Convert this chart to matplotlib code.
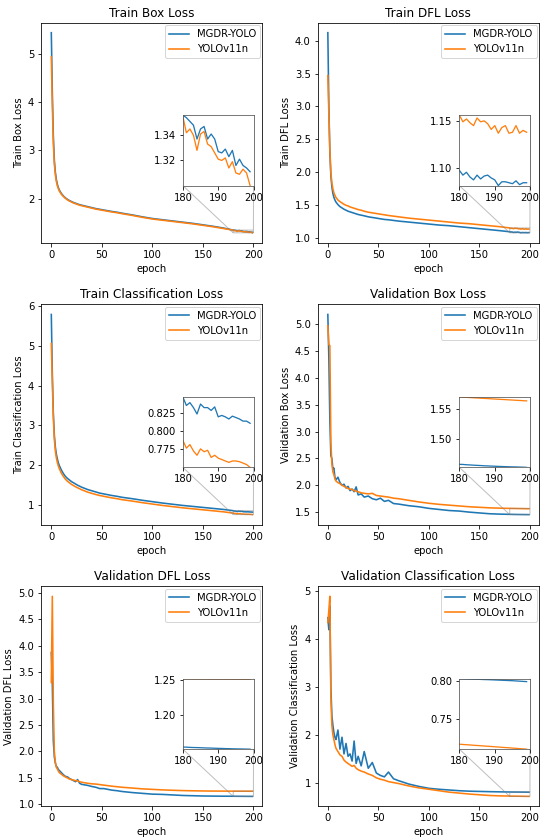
import numpy as np
import matplotlib
matplotlib.use("Agg")
import matplotlib.pyplot as plt

# epochs sampled (dense at the end for the zoom insets)
EPOCHS = [0, 1, 2, 3, 4, 5, 6, 7, 8, 10, 12, 14, 16, 18, 20, 22, 24, 26, 28, 30,
          33, 36, 40, 44, 48, 52, 56, 60, 65, 70, 80, 90, 100, 110, 120, 130, 140,
          150, 160, 170] + list(range(180, 200))

LABELS = ["MGDR-YOLO", "YOLOv11n"]

train_box_mgdr = [5.43, 4.20, 3.30, 2.80, 2.55, 2.40, 2.30, 2.23, 2.18, 2.11, 2.06, 2.02, 1.99, 1.965,
                  1.945, 1.925, 1.91, 1.895, 1.88, 1.87, 1.855, 1.84, 1.82, 1.80, 1.785, 1.77, 1.755,
                  1.74, 1.725, 1.705, 1.67, 1.63, 1.595, 1.57, 1.545, 1.52, 1.495, 1.465, 1.435, 1.40,
                  1.356, 1.354, 1.351, 1.348, 1.337, 1.345, 1.347, 1.337, 1.341, 1.337,
                  1.327, 1.326, 1.329, 1.323, 1.328, 1.316, 1.321, 1.316, 1.314, 1.311]
train_box_yolo = [4.93, 3.95, 3.15, 2.72, 2.50, 2.36, 2.27, 2.21, 2.16, 2.095, 2.05, 2.01, 1.98, 1.955,
                  1.935, 1.915, 1.90, 1.885, 1.87, 1.86, 1.845, 1.83, 1.81, 1.79, 1.775, 1.76, 1.745,
                  1.73, 1.715, 1.695, 1.66, 1.62, 1.585, 1.56, 1.535, 1.51, 1.485, 1.455, 1.425, 1.39,
                  1.355, 1.342, 1.345, 1.340, 1.328, 1.341, 1.343, 1.333, 1.331, 1.326,
                  1.321, 1.320, 1.322, 1.314, 1.319, 1.310, 1.309, 1.313, 1.310, 1.300]

train_dfl_mgdr = [4.12, 3.00, 2.30, 1.95, 1.78, 1.68, 1.62, 1.58, 1.55, 1.51, 1.48, 1.46, 1.44, 1.425,
                  1.41, 1.40, 1.39, 1.38, 1.37, 1.36, 1.35, 1.34, 1.325, 1.315, 1.305, 1.295, 1.285,
                  1.28, 1.27, 1.26, 1.245, 1.23, 1.215, 1.20, 1.19, 1.175, 1.16, 1.145, 1.13, 1.115,
                  1.098, 1.093, 1.096, 1.091, 1.088, 1.093, 1.089, 1.092, 1.093, 1.090,
                  1.088, 1.082, 1.086, 1.086, 1.085, 1.084, 1.087, 1.083, 1.085, 1.085]
train_dfl_yolo = [3.47, 2.90, 2.35, 2.00, 1.84, 1.75, 1.69, 1.65, 1.62, 1.58, 1.555, 1.535, 1.515, 1.50,
                  1.49, 1.475, 1.465, 1.455, 1.445, 1.435, 1.425, 1.41, 1.395, 1.385, 1.375, 1.365,
                  1.355, 1.345, 1.335, 1.325, 1.305, 1.29, 1.275, 1.26, 1.245, 1.23, 1.22, 1.205,
                  1.19, 1.175,
                  1.156, 1.149, 1.152, 1.148, 1.145, 1.153, 1.149, 1.150, 1.147, 1.141,
                  1.145, 1.137, 1.143, 1.145, 1.137, 1.138, 1.145, 1.137, 1.140, 1.138]

train_cls_mgdr = [5.79, 4.30, 3.30, 2.75, 2.45, 2.27, 2.15, 2.05, 1.98, 1.87, 1.78, 1.71, 1.66, 1.62,
                  1.58, 1.55, 1.52, 1.49, 1.465, 1.44, 1.41, 1.38, 1.35, 1.32, 1.29, 1.27, 1.25, 1.23,
                  1.21, 1.185, 1.15, 1.11, 1.075, 1.04, 1.01, 0.98, 0.955, 0.93, 0.905, 0.88,
                  0.848, 0.836, 0.840, 0.833, 0.824, 0.838, 0.833, 0.833, 0.829, 0.834,
                  0.820, 0.822, 0.820, 0.817, 0.821, 0.819, 0.817, 0.814, 0.814, 0.811]
train_cls_yolo = [5.06, 4.10, 3.20, 2.65, 2.35, 2.18, 2.06, 1.97, 1.90, 1.79, 1.71, 1.64, 1.59, 1.55,
                  1.51, 1.48, 1.45, 1.425, 1.40, 1.375, 1.345, 1.315, 1.285, 1.255, 1.23, 1.21, 1.19,
                  1.17, 1.15, 1.125, 1.09, 1.05, 1.015, 0.98, 0.95, 0.92, 0.895, 0.87, 0.845, 0.82,
                  0.787, 0.776, 0.781, 0.772, 0.766, 0.775, 0.771, 0.773, 0.763, 0.766,
                  0.762, 0.760, 0.758, 0.756, 0.758, 0.758, 0.757, 0.755, 0.753, 0.749]

val_box_mgdr = [5.18, 4.37, 3.20, 2.55, 2.50, 2.30, 2.32, 2.15, 2.10, 2.15, 2.05, 2.00, 2.02, 1.95,
                1.98, 1.90, 1.93, 1.88, 1.97, 1.82, 1.84, 1.78, 1.80, 1.75, 1.73, 1.76, 1.70, 1.72,
                1.66, 1.65, 1.62, 1.60, 1.57, 1.55, 1.53, 1.52, 1.50, 1.485, 1.47, 1.463,
                1.4590, 1.4588, 1.4583, 1.4580, 1.4576, 1.4573, 1.4570, 1.4566, 1.4564, 1.4561,
                1.4559, 1.4556, 1.4554, 1.4552, 1.4550, 1.4548, 1.4547, 1.4545, 1.4543, 1.4540]
val_box_yolo = [4.97, 4.62, 4.60, 2.80, 2.40, 2.25, 2.20, 2.12, 2.08, 2.05, 2.03, 2.00, 1.98, 1.96,
                1.94, 1.93, 1.92, 1.90, 1.89, 1.88, 1.86, 1.85, 1.84, 1.85, 1.81, 1.80, 1.79, 1.78,
                1.76, 1.75, 1.72, 1.69, 1.665, 1.645, 1.63, 1.615, 1.60, 1.59, 1.58, 1.574,
                1.5695, 1.5692, 1.5688, 1.5685, 1.5681, 1.5678, 1.5674, 1.5671, 1.5668, 1.5664,
                1.5661, 1.5657, 1.5654, 1.5651, 1.5647, 1.5644, 1.5640, 1.5637, 1.5633, 1.5630]

val_dfl_mgdr = [3.87, 3.28, 2.20, 1.90, 1.78, 1.72, 1.70, 1.66, 1.64, 1.60, 1.56, 1.53, 1.52, 1.49,
                1.47, 1.45, 1.43, 1.47, 1.40, 1.38, 1.37, 1.36, 1.34, 1.325, 1.30, 1.30, 1.285, 1.27,
                1.26, 1.245, 1.225, 1.21, 1.195, 1.19, 1.18, 1.17, 1.165, 1.16, 1.158, 1.156,
                1.1555, 1.1553, 1.1550, 1.1548, 1.1547, 1.1545, 1.1543, 1.1541, 1.1540, 1.1538,
                1.1536, 1.1535, 1.1533, 1.1532, 1.1530, 1.1529, 1.1528, 1.1527, 1.1526, 1.1525]
val_dfl_yolo = [3.30, 4.93, 2.90, 2.00, 1.80, 1.70, 1.67, 1.63, 1.60, 1.57, 1.54, 1.52, 1.50, 1.48,
                1.47, 1.46, 1.45, 1.445, 1.43, 1.42, 1.41, 1.40, 1.39, 1.385, 1.375, 1.365, 1.355,
                1.345, 1.335, 1.325, 1.31, 1.295, 1.285, 1.275, 1.268, 1.262, 1.258, 1.255, 1.253,
                1.252,
                1.2512, 1.2512, 1.2511, 1.2511, 1.2510, 1.2510, 1.2509, 1.2509, 1.2508, 1.2508,
                1.2508, 1.2507, 1.2507, 1.2507, 1.2506, 1.2506, 1.2506, 1.2505, 1.2505, 1.2505]

val_cls_mgdr = [4.45, 4.20, 4.70, 3.00, 2.40, 2.20, 2.05, 1.95, 1.90, 2.10, 1.70, 1.95, 1.60, 1.82,
                1.55, 1.60, 1.45, 1.87, 1.40, 1.55, 1.35, 1.65, 1.30, 1.42, 1.20, 1.15, 1.12, 1.22,
                1.08, 1.04, 0.97, 0.92, 0.88, 0.86, 0.845, 0.83, 0.82, 0.815, 0.81, 0.806,
                0.8030, 0.8029, 0.8027, 0.8026, 0.8024, 0.8023, 0.8021, 0.8019, 0.8018, 0.8016,
                0.8014, 0.8012, 0.8010, 0.8008, 0.8006, 0.8004, 0.8001, 0.7998, 0.7995, 0.7992]
val_cls_yolo = [4.35, 4.60, 4.90, 2.80, 2.20, 2.00, 1.90, 1.80, 1.72, 1.65, 1.58, 1.55, 1.47, 1.43,
                1.40, 1.37, 1.34, 1.36, 1.30, 1.27, 1.24, 1.22, 1.18, 1.15, 1.10, 1.07, 1.05, 1.02,
                1.00, 0.98, 0.93, 0.89, 0.86, 0.83, 0.80, 0.78, 0.76, 0.745, 0.73, 0.722,
                0.7175, 0.7171, 0.7168, 0.7165, 0.7161, 0.7158, 0.7155, 0.7151, 0.7148, 0.7145,
                0.7141, 0.7138, 0.7134, 0.7131, 0.7128, 0.7124, 0.7121, 0.7117, 0.7114, 0.7110]

TITLES = ["Train Box Loss", "Train DFL Loss", "Train Classification Loss",
          "Validation Box Loss", "Validation DFL Loss", "Validation Classification Loss"]
SERIES = [(train_box_mgdr, train_box_yolo), (train_dfl_mgdr, train_dfl_yolo),
          (train_cls_mgdr, train_cls_yolo), (val_box_mgdr, val_box_yolo),
          (val_dfl_mgdr, val_dfl_yolo), (val_cls_mgdr, val_cls_yolo)]
INSET_YTICKS = [[1.32, 1.34], [1.10, 1.15], [0.775, 0.800, 0.825],
                [1.50, 1.55], [1.20, 1.25], [0.75, 0.80]]
INSET_XTICKS = [180, 190, 200]

fig, axes = plt.subplots(3, 2, figsize=(550 / 72, 840 / 72), dpi=72)
fig.subplots_adjust(left=0.075, right=0.98, top=0.973, bottom=0.04, wspace=0.25, hspace=0.28)

ep = np.array(EPOCHS)
tail = ep >= 180
colors = ["tab:blue", "tab:orange"]

for i, ax in enumerate(axes.flat):
    a, b = SERIES[i]
    ax.plot(ep, a, color=colors[0], lw=1.6, label=LABELS[0])
    ax.plot(ep, b, color=colors[1], lw=1.6, label=LABELS[1])
    ax.set_title(TITLES[i])
    ax.set_xlabel("epoch")
    ax.set_ylabel(TITLES[i])
    ax.legend(loc="upper right", borderaxespad=0.25)

    # zoom inset on the last epochs
    axins = ax.inset_axes([0.64, 0.26, 0.32, 0.32])
    axins.plot(ep, a, color=colors[0], lw=1.3)
    axins.plot(ep, b, color=colors[1], lw=1.3)
    lo = min(np.min(np.array(a)[tail]), np.min(np.array(b)[tail]))
    hi = max(np.max(np.array(a)[tail]), np.max(np.array(b)[tail]))
    axins.set_xlim(180, 200)
    axins.set_ylim(lo, hi)
    axins.set_xticks(INSET_XTICKS)
    axins.set_yticks(INSET_YTICKS[i])
    for s in axins.spines.values():
        s.set_edgecolor("0.35")
    ax.indicate_inset_zoom(axins, edgecolor="gray")

fig.savefig("out.png", dpi=72)
